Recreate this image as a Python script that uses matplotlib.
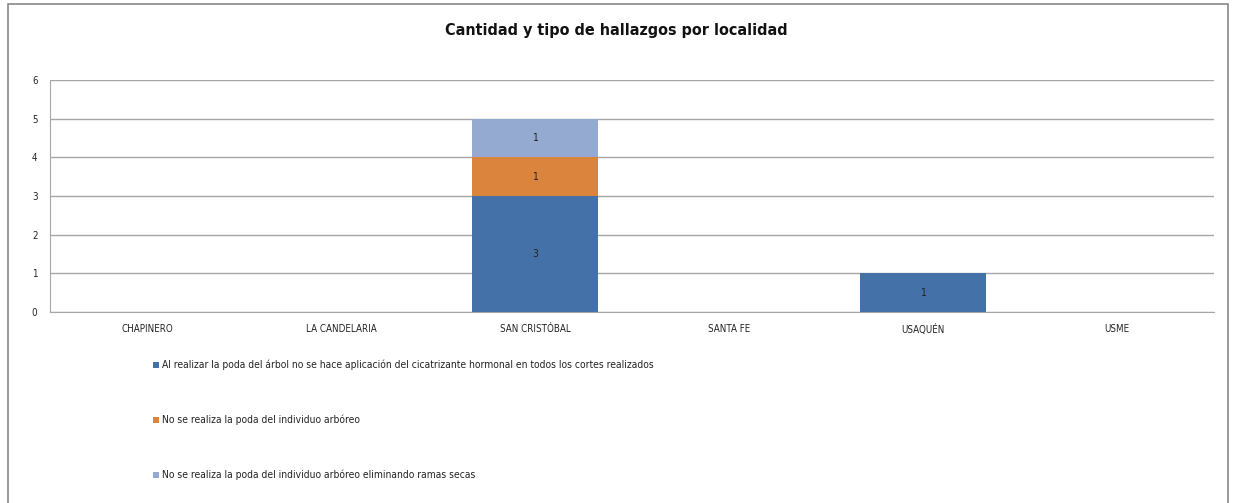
import matplotlib.pyplot as plt
import numpy as np
from matplotlib.patches import Rectangle

localidades = ['CHAPINERO', 'LA CANDELARIA', 'SAN CRISTÓBAL', 'SANTA FE', 'USAQUÉN', 'USME']
sin_cicatrizante = [0, 0, 3, 0, 1, 0]
sin_poda = [0, 0, 1, 0, 0, 0]
sin_ramas_secas = [0, 0, 1, 0, 0, 0]
series = [
    'Al realizar la poda del árbol no se hace aplicación del cicatrizante hormonal en todos los cortes realizados',
    'No se realiza la poda del individuo arbóreo',
    'No se realiza la poda del individuo arbóreo eliminando ramas secas',
]
colores = ['#4472A8', '#DB843D', '#94AAD0']

plt.rcParams['font.family'] = ['DejaVu Sans']
plt.rcParams['font.stretch'] = 'condensed'

W, H = 1233, 503
fig = plt.figure(figsize=(W / 100, H / 100), dpi=100)

# outer frame
fig.patches.append(Rectangle((8 / W, -0.01), 1220 / W, 1 - 4 / H + 0.01, transform=fig.transFigure,
                             fill=False, edgecolor='#888888', linewidth=1.2))

ax = fig.add_axes([50 / W, 1 - 312 / H, 1164 / W, 232 / H])
x = np.arange(len(localidades))
bottom = np.zeros(len(localidades))
for vals, c in zip([sin_cicatrizante, sin_poda, sin_ramas_secas], colores):
    vals = np.array(vals)
    ax.bar(x, vals, width=0.645, bottom=bottom, color=c, zorder=3)
    for xi, v, b in zip(x, vals, bottom):
        if v > 0:
            ax.text(xi, b + v / 2, str(v), ha='center', va='center', fontsize=7.5, color='#222222', zorder=4)
    bottom += vals

ax.set_xlim(-0.5, len(localidades) - 0.5)
ax.set_ylim(0, 6)
ax.set_yticks(range(7))
ax.set_xticks(x)
ax.set_xticklabels(localidades, fontsize=7)
ax.tick_params(axis='both', length=0, labelsize=7, colors='#222222')
ax.tick_params(axis='y', pad=9)
ax.tick_params(axis='x', pad=9)
ax.grid(axis='y', color='#A6A6A6', linewidth=1, zorder=0)
for s in ['top', 'right']:
    ax.spines[s].set_visible(False)
ax.spines['left'].set_color('#A6A6A6')
ax.spines['bottom'].set_color('#A6A6A6')

fig.text(0.5, 1 - 30 / H, 'Cantidad y tipo de hallazgos por localidad', ha='center', va='center',
         fontsize=11.5, fontweight='bold', color='#111111')

for i, (lab, c) in enumerate(zip(series, colores)):
    y = 1 - (365 + 55 * i) / H
    fig.patches.append(Rectangle((153 / W, y - 3 / H), 6 / W, 6 / H, transform=fig.transFigure,
                                 facecolor=c, edgecolor='none'))
    fig.text(162 / W, y, lab, ha='left', va='center', fontsize=7.4, color='#222222')

fig.savefig('out.png', dpi=100)
